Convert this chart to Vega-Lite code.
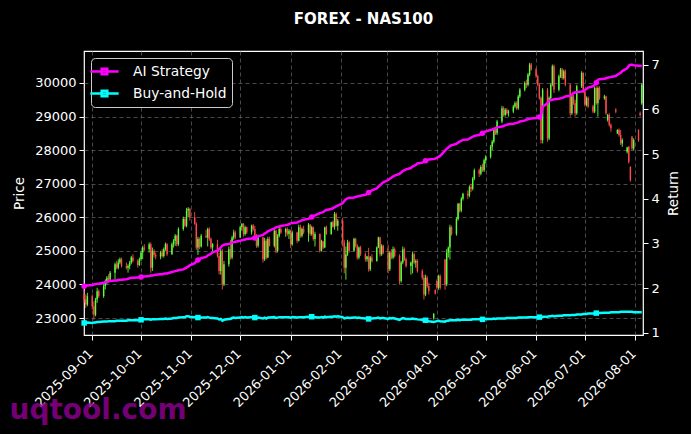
{
  "$schema": "https://vega.github.io/schema/vega-lite/v6.json",
  "width": 559,
  "height": 284,
  "autosize": "none",
  "padding": {"left": 84, "top": 51, "right": 48, "bottom": 99},
  "background": "#000000",
  "title": {"text": "FOREX - NAS100", "color": "#ffffff", "fontSize": 15, "fontWeight": "bold", "offset": 24, "anchor": "middle", "frame": "group"},
  "data": {
    "values": [
      {"d":"2025-08-27","o":23700,"h":23850,"l":23450,"c":23550,"ai":2.04,"bh":1.22},
      {"d":"2025-08-28","o":23550,"h":23700,"l":23300,"c":23400,"ai":2.05,"bh":1.22},
      {"d":"2025-08-29","o":23400,"h":23750,"l":23350,"c":23650,"ai":2.06,"bh":1.23},
      {"d":"2025-09-01","o":23650,"h":23700,"l":23250,"c":23350,"ai":2.07,"bh":1.22},
      {"d":"2025-09-02","o":23350,"h":23500,"l":22950,"c":23100,"ai":2.08,"bh":1.23},
      {"d":"2025-09-03","o":23100,"h":23600,"l":23050,"c":23550,"ai":2.09,"bh":1.23},
      {"d":"2025-09-04","o":23550,"h":23900,"l":23450,"c":23800,"ai":2.10,"bh":1.24},
      {"d":"2025-09-05","o":23800,"h":23850,"l":23600,"c":23650,"ai":2.10,"bh":1.24},
      {"d":"2025-09-08","o":23650,"h":24050,"l":23600,"c":23950,"ai":2.12,"bh":1.25},
      {"d":"2025-09-09","o":23950,"h":24150,"l":23850,"c":24100,"ai":2.13,"bh":1.25},
      {"d":"2025-09-10","o":24100,"h":24250,"l":24000,"c":24200,"ai":2.14,"bh":1.25},
      {"d":"2025-09-11","o":24200,"h":24300,"l":24050,"c":24150,"ai":2.15,"bh":1.26},
      {"d":"2025-09-12","o":24150,"h":24400,"l":24100,"c":24350,"ai":2.16,"bh":1.26},
      {"d":"2025-09-15","o":24350,"h":24650,"l":24150,"c":24600,"ai":2.17,"bh":1.26},
      {"d":"2025-09-16","o":24600,"h":24700,"l":24450,"c":24500,"ai":2.17,"bh":1.27},
      {"d":"2025-09-17","o":24500,"h":24750,"l":24450,"c":24650,"ai":2.18,"bh":1.27},
      {"d":"2025-09-18","o":24650,"h":24800,"l":24600,"c":24750,"ai":2.19,"bh":1.27},
      {"d":"2025-09-19","o":24750,"h":24800,"l":24500,"c":24550,"ai":2.19,"bh":1.27},
      {"d":"2025-09-22","o":24550,"h":24650,"l":24450,"c":24500,"ai":2.20,"bh":1.27},
      {"d":"2025-09-23","o":24500,"h":24600,"l":24350,"c":24550,"ai":2.21,"bh":1.28},
      {"d":"2025-09-24","o":24550,"h":24700,"l":24450,"c":24650,"ai":2.22,"bh":1.28},
      {"d":"2025-09-25","o":24650,"h":24850,"l":24600,"c":24800,"ai":2.23,"bh":1.28},
      {"d":"2025-09-26","o":24800,"h":24900,"l":24650,"c":24700,"ai":2.23,"bh":1.28},
      {"d":"2025-09-29","o":24700,"h":24750,"l":24500,"c":24580,"ai":2.24,"bh":1.28},
      {"d":"2025-09-30","o":24580,"h":24800,"l":24550,"c":24750,"ai":2.24,"bh":1.29},
      {"d":"2025-10-01","o":24750,"h":25000,"l":24700,"c":24950,"ai":2.25,"bh":1.29},
      {"d":"2025-10-02","o":24950,"h":25150,"l":24750,"c":25100,"ai":2.26,"bh":1.29},
      {"d":"2025-10-03","o":25100,"h":25200,"l":25000,"c":25050,"ai":2.26,"bh":1.30},
      {"d":"2025-10-06","o":25050,"h":25250,"l":24950,"c":25200,"ai":2.27,"bh":1.30},
      {"d":"2025-10-07","o":25200,"h":25250,"l":24350,"c":24500,"ai":2.28,"bh":1.29},
      {"d":"2025-10-08","o":24500,"h":25100,"l":24400,"c":25000,"ai":2.28,"bh":1.30},
      {"d":"2025-10-09","o":25000,"h":25050,"l":24800,"c":24880,"ai":2.29,"bh":1.30},
      {"d":"2025-10-10","o":24880,"h":24950,"l":24750,"c":24830,"ai":2.30,"bh":1.30},
      {"d":"2025-10-13","o":24830,"h":25000,"l":24750,"c":24950,"ai":2.31,"bh":1.31},
      {"d":"2025-10-14","o":24950,"h":25050,"l":24800,"c":24850,"ai":2.31,"bh":1.31},
      {"d":"2025-10-15","o":24850,"h":25100,"l":24800,"c":25050,"ai":2.32,"bh":1.31},
      {"d":"2025-10-16","o":25050,"h":25250,"l":25000,"c":25200,"ai":2.33,"bh":1.32},
      {"d":"2025-10-17","o":25200,"h":25230,"l":24850,"c":24900,"ai":2.33,"bh":1.31},
      {"d":"2025-10-20","o":24900,"h":25250,"l":24880,"c":25200,"ai":2.36,"bh":1.32},
      {"d":"2025-10-21","o":25200,"h":25350,"l":25100,"c":25300,"ai":2.37,"bh":1.33},
      {"d":"2025-10-22","o":25300,"h":25500,"l":25150,"c":25450,"ai":2.38,"bh":1.33},
      {"d":"2025-10-23","o":25450,"h":25480,"l":25130,"c":25200,"ai":2.39,"bh":1.33},
      {"d":"2025-10-24","o":25200,"h":25700,"l":25150,"c":25650,"ai":2.40,"bh":1.34},
      {"d":"2025-10-27","o":25650,"h":26020,"l":25600,"c":25950,"ai":2.42,"bh":1.35},
      {"d":"2025-10-28","o":25950,"h":26000,"l":25700,"c":25750,"ai":2.44,"bh":1.35},
      {"d":"2025-10-29","o":25750,"h":26280,"l":25700,"c":26200,"ai":2.46,"bh":1.37},
      {"d":"2025-10-30","o":26200,"h":26300,"l":26000,"c":26250,"ai":2.48,"bh":1.37},
      {"d":"2025-10-31","o":26250,"h":26280,"l":25900,"c":26000,"ai":2.51,"bh":1.36},
      {"d":"2025-11-03","o":26000,"h":26160,"l":25780,"c":25800,"ai":2.56,"bh":1.35},
      {"d":"2025-11-04","o":25800,"h":25850,"l":25030,"c":25100,"ai":2.60,"bh":1.33},
      {"d":"2025-11-05","o":25100,"h":25420,"l":24880,"c":25350,"ai":2.63,"bh":1.34},
      {"d":"2025-11-06","o":25350,"h":25400,"l":25050,"c":25130,"ai":2.65,"bh":1.33},
      {"d":"2025-11-07","o":25130,"h":25500,"l":25100,"c":25450,"ai":2.67,"bh":1.34},
      {"d":"2025-11-10","o":25450,"h":25630,"l":25390,"c":25400,"ai":2.70,"bh":1.34},
      {"d":"2025-11-11","o":25400,"h":25690,"l":25130,"c":25650,"ai":2.73,"bh":1.35},
      {"d":"2025-11-12","o":25650,"h":25700,"l":25300,"c":25350,"ai":2.75,"bh":1.34},
      {"d":"2025-11-13","o":25350,"h":25400,"l":25050,"c":25100,"ai":2.77,"bh":1.33},
      {"d":"2025-11-14","o":25100,"h":25230,"l":24980,"c":25200,"ai":2.80,"bh":1.33},
      {"d":"2025-11-17","o":25200,"h":25330,"l":24800,"c":24850,"ai":2.84,"bh":1.32},
      {"d":"2025-11-18","o":24850,"h":24950,"l":24300,"c":24400,"ai":2.87,"bh":1.30},
      {"d":"2025-11-19","o":24400,"h":25100,"l":24290,"c":25000,"ai":2.91,"bh":1.31},
      {"d":"2025-11-20","o":25000,"h":25050,"l":23850,"c":24000,"ai":2.95,"bh":1.27},
      {"d":"2025-11-21","o":24000,"h":24700,"l":23950,"c":24600,"ai":2.97,"bh":1.29},
      {"d":"2025-11-24","o":24600,"h":25130,"l":24530,"c":25050,"ai":2.99,"bh":1.31},
      {"d":"2025-11-25","o":25050,"h":25330,"l":24740,"c":24800,"ai":3.00,"bh":1.31},
      {"d":"2025-11-26","o":24800,"h":25450,"l":24750,"c":25400,"ai":3.02,"bh":1.33},
      {"d":"2025-11-27","o":25400,"h":25630,"l":25330,"c":25550,"ai":3.03,"bh":1.34},
      {"d":"2025-11-28","o":25550,"h":25600,"l":25350,"c":25400,"ai":3.04,"bh":1.33},
      {"d":"2025-12-01","o":25400,"h":25750,"l":25380,"c":25700,"ai":3.06,"bh":1.34},
      {"d":"2025-12-02","o":25700,"h":25830,"l":25600,"c":25800,"ai":3.07,"bh":1.35},
      {"d":"2025-12-03","o":25800,"h":25830,"l":25420,"c":25500,"ai":3.08,"bh":1.34},
      {"d":"2025-12-04","o":25500,"h":25750,"l":25450,"c":25700,"ai":3.09,"bh":1.35},
      {"d":"2025-12-05","o":25700,"h":25720,"l":25500,"c":25550,"ai":3.10,"bh":1.34},
      {"d":"2025-12-08","o":25550,"h":25780,"l":25480,"c":25750,"ai":3.11,"bh":1.35},
      {"d":"2025-12-09","o":25750,"h":25800,"l":25600,"c":25650,"ai":3.12,"bh":1.35},
      {"d":"2025-12-10","o":25650,"h":25750,"l":25400,"c":25450,"ai":3.12,"bh":1.34},
      {"d":"2025-12-11","o":25450,"h":25500,"l":25090,"c":25150,"ai":3.14,"bh":1.33},
      {"d":"2025-12-12","o":25150,"h":25480,"l":25100,"c":25400,"ai":3.16,"bh":1.34},
      {"d":"2025-12-15","o":25400,"h":25420,"l":24650,"c":24750,"ai":3.19,"bh":1.32},
      {"d":"2025-12-16","o":24750,"h":25390,"l":24700,"c":25300,"ai":3.22,"bh":1.34},
      {"d":"2025-12-17","o":25300,"h":25350,"l":24740,"c":24800,"ai":3.24,"bh":1.32},
      {"d":"2025-12-18","o":24800,"h":25420,"l":24780,"c":25350,"ai":3.27,"bh":1.34},
      {"d":"2025-12-19","o":25350,"h":25420,"l":25130,"c":25150,"ai":3.29,"bh":1.34},
      {"d":"2025-12-22","o":25150,"h":25650,"l":25100,"c":25600,"ai":3.34,"bh":1.35},
      {"d":"2025-12-23","o":25600,"h":25630,"l":24930,"c":25000,"ai":3.36,"bh":1.33},
      {"d":"2025-12-24","o":25000,"h":25500,"l":24950,"c":25450,"ai":3.37,"bh":1.34},
      {"d":"2025-12-25","o":25450,"h":25720,"l":25400,"c":25650,"ai":3.38,"bh":1.35},
      {"d":"2025-12-26","o":25650,"h":25700,"l":25500,"c":25550,"ai":3.39,"bh":1.35},
      {"d":"2025-12-29","o":25550,"h":25690,"l":25420,"c":25650,"ai":3.41,"bh":1.35},
      {"d":"2025-12-30","o":25650,"h":25700,"l":25450,"c":25500,"ai":3.42,"bh":1.35},
      {"d":"2025-12-31","o":25500,"h":25650,"l":25350,"c":25600,"ai":3.43,"bh":1.35},
      {"d":"2026-01-01","o":25600,"h":25630,"l":25090,"c":25200,"ai":3.45,"bh":1.34},
      {"d":"2026-01-02","o":25200,"h":25600,"l":25150,"c":25550,"ai":3.46,"bh":1.35},
      {"d":"2026-01-05","o":25550,"h":25570,"l":25230,"c":25300,"ai":3.47,"bh":1.34},
      {"d":"2026-01-06","o":25300,"h":25780,"l":25280,"c":25700,"ai":3.49,"bh":1.35},
      {"d":"2026-01-07","o":25700,"h":25780,"l":25390,"c":25450,"ai":3.50,"bh":1.35},
      {"d":"2026-01-08","o":25450,"h":25700,"l":25400,"c":25650,"ai":3.52,"bh":1.35},
      {"d":"2026-01-09","o":25650,"h":25750,"l":25500,"c":25550,"ai":3.53,"bh":1.35},
      {"d":"2026-01-12","o":25550,"h":25830,"l":25270,"c":25780,"ai":3.55,"bh":1.36},
      {"d":"2026-01-13","o":25780,"h":25800,"l":25450,"c":25500,"ai":3.57,"bh":1.35},
      {"d":"2026-01-14","o":25500,"h":25750,"l":25450,"c":25700,"ai":3.59,"bh":1.36},
      {"d":"2026-01-15","o":25700,"h":25720,"l":25300,"c":25350,"ai":3.61,"bh":1.35},
      {"d":"2026-01-16","o":25350,"h":25570,"l":25130,"c":25500,"ai":3.63,"bh":1.35},
      {"d":"2026-01-19","o":25500,"h":25520,"l":24950,"c":25000,"ai":3.68,"bh":1.34},
      {"d":"2026-01-20","o":25000,"h":25330,"l":24980,"c":25280,"ai":3.69,"bh":1.35},
      {"d":"2026-01-21","o":25280,"h":25300,"l":25050,"c":25100,"ai":3.70,"bh":1.34},
      {"d":"2026-01-22","o":25100,"h":25720,"l":25080,"c":25700,"ai":3.73,"bh":1.36},
      {"d":"2026-01-23","o":25700,"h":25750,"l":25480,"c":25500,"ai":3.75,"bh":1.35},
      {"d":"2026-01-26","o":25500,"h":25870,"l":25480,"c":25850,"ai":3.77,"bh":1.36},
      {"d":"2026-01-27","o":25850,"h":25900,"l":25690,"c":25720,"ai":3.79,"bh":1.36},
      {"d":"2026-01-28","o":25720,"h":26160,"l":25630,"c":26100,"ai":3.81,"bh":1.37},
      {"d":"2026-01-29","o":26100,"h":26140,"l":25720,"c":25750,"ai":3.83,"bh":1.36},
      {"d":"2026-01-30","o":25750,"h":25950,"l":25600,"c":25900,"ai":3.85,"bh":1.37},
      {"d":"2026-02-02","o":25900,"h":25990,"l":25130,"c":25250,"ai":3.90,"bh":1.35},
      {"d":"2026-02-03","o":25250,"h":25330,"l":24330,"c":24500,"ai":3.95,"bh":1.32},
      {"d":"2026-02-04","o":24500,"h":25130,"l":24140,"c":24900,"ai":3.99,"bh":1.33},
      {"d":"2026-02-05","o":24900,"h":25330,"l":24850,"c":25250,"ai":4.01,"bh":1.34},
      {"d":"2026-02-06","o":25250,"h":25300,"l":24950,"c":25000,"ai":4.02,"bh":1.33},
      {"d":"2026-02-09","o":25000,"h":25390,"l":24980,"c":25350,"ai":4.03,"bh":1.34},
      {"d":"2026-02-10","o":25350,"h":25390,"l":25100,"c":25150,"ai":4.04,"bh":1.34},
      {"d":"2026-02-11","o":25150,"h":25200,"l":24740,"c":24800,"ai":4.05,"bh":1.33},
      {"d":"2026-02-12","o":24800,"h":25130,"l":24750,"c":25100,"ai":4.06,"bh":1.34},
      {"d":"2026-02-13","o":25100,"h":25150,"l":24850,"c":24900,"ai":4.07,"bh":1.33},
      {"d":"2026-02-16","o":24900,"h":24950,"l":24680,"c":24750,"ai":4.09,"bh":1.32},
      {"d":"2026-02-17","o":24750,"h":24850,"l":24680,"c":24830,"ai":4.11,"bh":1.33},
      {"d":"2026-02-18","o":24830,"h":25090,"l":24380,"c":24450,"ai":4.14,"bh":1.31},
      {"d":"2026-02-19","o":24450,"h":24850,"l":24400,"c":24800,"ai":4.17,"bh":1.32},
      {"d":"2026-02-20","o":24800,"h":24900,"l":24650,"c":24700,"ai":4.19,"bh":1.32},
      {"d":"2026-02-23","o":24700,"h":25130,"l":24680,"c":25100,"ai":4.23,"bh":1.33},
      {"d":"2026-02-24","o":25100,"h":25420,"l":25080,"c":25400,"ai":4.27,"bh":1.34},
      {"d":"2026-02-25","o":25400,"h":25420,"l":24830,"c":24900,"ai":4.30,"bh":1.32},
      {"d":"2026-02-26","o":24900,"h":25200,"l":24850,"c":25150,"ai":4.34,"bh":1.33},
      {"d":"2026-02-27","o":25150,"h":25180,"l":24900,"c":24950,"ai":4.37,"bh":1.33},
      {"d":"2026-03-02","o":24950,"h":25180,"l":24330,"c":24450,"ai":4.42,"bh":1.31},
      {"d":"2026-03-03","o":24450,"h":25000,"l":24400,"c":24950,"ai":4.45,"bh":1.33},
      {"d":"2026-03-04","o":24950,"h":25050,"l":24750,"c":24800,"ai":4.47,"bh":1.32},
      {"d":"2026-03-05","o":24800,"h":25130,"l":24750,"c":25050,"ai":4.50,"bh":1.33},
      {"d":"2026-03-06","o":25050,"h":25100,"l":24800,"c":24850,"ai":4.52,"bh":1.32},
      {"d":"2026-03-09","o":24850,"h":24900,"l":24000,"c":24100,"ai":4.56,"bh":1.29},
      {"d":"2026-03-10","o":24100,"h":24700,"l":24050,"c":24650,"ai":4.59,"bh":1.31},
      {"d":"2026-03-11","o":24650,"h":25130,"l":24600,"c":25050,"ai":4.62,"bh":1.33},
      {"d":"2026-03-12","o":25050,"h":25100,"l":24700,"c":24750,"ai":4.64,"bh":1.32},
      {"d":"2026-03-13","o":24750,"h":24800,"l":24500,"c":24550,"ai":4.66,"bh":1.31},
      {"d":"2026-03-16","o":24550,"h":24680,"l":24290,"c":24650,"ai":4.69,"bh":1.31},
      {"d":"2026-03-17","o":24650,"h":24980,"l":24330,"c":24900,"ai":4.72,"bh":1.32},
      {"d":"2026-03-18","o":24900,"h":24950,"l":24600,"c":24650,"ai":4.74,"bh":1.31},
      {"d":"2026-03-19","o":24650,"h":24750,"l":24500,"c":24700,"ai":4.76,"bh":1.31},
      {"d":"2026-03-20","o":24700,"h":24750,"l":24350,"c":24400,"ai":4.79,"bh":1.30},
      {"d":"2026-03-23","o":24400,"h":24450,"l":24140,"c":24200,"ai":4.81,"bh":1.29},
      {"d":"2026-03-24","o":24200,"h":24290,"l":23550,"c":23700,"ai":4.83,"bh":1.26},
      {"d":"2026-03-25","o":23700,"h":24290,"l":23650,"c":24200,"ai":4.85,"bh":1.28},
      {"d":"2026-03-26","o":24200,"h":24250,"l":23900,"c":23950,"ai":4.86,"bh":1.27},
      {"d":"2026-03-27","o":23950,"h":24050,"l":23700,"c":23800,"ai":4.88,"bh":1.26},
      {"d":"2026-03-30","o":23000,"h":23150,"l":22950,"c":23120,"ai":4.89,"bh":1.24},
      {"d":"2026-03-31","o":23840,"h":23850,"l":23700,"c":23720,"ai":4.90,"bh":1.25},
      {"d":"2026-04-01","o":24100,"h":24150,"l":23850,"c":23900,"ai":4.92,"bh":1.26},
      {"d":"2026-04-02","o":23900,"h":24290,"l":23840,"c":24250,"ai":4.94,"bh":1.27},
      {"d":"2026-04-03","o":24250,"h":24300,"l":23850,"c":23900,"ai":4.96,"bh":1.26},
      {"d":"2026-04-06","o":24740,"h":24760,"l":23840,"c":24000,"ai":5.08,"bh":1.25},
      {"d":"2026-04-07","o":24000,"h":25050,"l":23950,"c":24950,"ai":5.12,"bh":1.27},
      {"d":"2026-04-08","o":24950,"h":25130,"l":24800,"c":25100,"ai":5.15,"bh":1.27},
      {"d":"2026-04-09","o":25100,"h":25780,"l":24740,"c":25700,"ai":5.18,"bh":1.28},
      {"d":"2026-04-10","o":25700,"h":25750,"l":25450,"c":25500,"ai":5.20,"bh":1.28},
      {"d":"2026-04-13","o":25500,"h":26000,"l":25450,"c":25950,"ai":5.23,"bh":1.28},
      {"d":"2026-04-14","o":25950,"h":26430,"l":25900,"c":26400,"ai":5.26,"bh":1.29},
      {"d":"2026-04-15","o":26400,"h":26430,"l":26140,"c":26200,"ai":5.28,"bh":1.28},
      {"d":"2026-04-16","o":26200,"h":26600,"l":26150,"c":26550,"ai":5.30,"bh":1.29},
      {"d":"2026-04-17","o":26550,"h":26730,"l":26500,"c":26700,"ai":5.32,"bh":1.29},
      {"d":"2026-04-20","o":26700,"h":26800,"l":26550,"c":26650,"ai":5.33,"bh":1.29},
      {"d":"2026-04-21","o":26650,"h":26950,"l":26600,"c":26900,"ai":5.35,"bh":1.29},
      {"d":"2026-04-22","o":26900,"h":27000,"l":26750,"c":26850,"ai":5.37,"bh":1.29},
      {"d":"2026-04-23","o":26850,"h":27200,"l":26800,"c":27150,"ai":5.39,"bh":1.30},
      {"d":"2026-04-24","o":27150,"h":27450,"l":27100,"c":27400,"ai":5.41,"bh":1.30},
      {"d":"2026-04-27","o":27400,"h":27450,"l":27200,"c":27300,"ai":5.43,"bh":1.30},
      {"d":"2026-04-28","o":27300,"h":27550,"l":27250,"c":27500,"ai":5.45,"bh":1.30},
      {"d":"2026-04-29","o":27500,"h":27600,"l":27350,"c":27400,"ai":5.47,"bh":1.30},
      {"d":"2026-04-30","o":27400,"h":27750,"l":27350,"c":27700,"ai":5.49,"bh":1.30},
      {"d":"2026-05-01","o":27700,"h":27850,"l":27600,"c":27800,"ai":5.51,"bh":1.31},
      {"d":"2026-05-04","o":27800,"h":28150,"l":27750,"c":28100,"ai":5.54,"bh":1.31},
      {"d":"2026-05-05","o":28100,"h":28300,"l":28000,"c":28250,"ai":5.55,"bh":1.31},
      {"d":"2026-05-06","o":28250,"h":28650,"l":28200,"c":28600,"ai":5.57,"bh":1.32},
      {"d":"2026-05-07","o":28600,"h":28700,"l":28450,"c":28500,"ai":5.58,"bh":1.31},
      {"d":"2026-05-08","o":28500,"h":28900,"l":28450,"c":28850,"ai":5.60,"bh":1.32},
      {"d":"2026-05-11","o":28850,"h":29320,"l":28800,"c":29250,"ai":5.62,"bh":1.32},
      {"d":"2026-05-12","o":29250,"h":29300,"l":29000,"c":29050,"ai":5.63,"bh":1.32},
      {"d":"2026-05-13","o":29050,"h":29250,"l":29000,"c":29200,"ai":5.65,"bh":1.32},
      {"d":"2026-05-14","o":29200,"h":29250,"l":29050,"c":29100,"ai":5.66,"bh":1.33},
      {"d":"2026-05-15","o":29100,"h":29200,"l":29000,"c":29150,"ai":5.67,"bh":1.33},
      {"d":"2026-05-18","o":29150,"h":29350,"l":29100,"c":29300,"ai":5.68,"bh":1.33},
      {"d":"2026-05-19","o":29300,"h":29450,"l":29250,"c":29400,"ai":5.69,"bh":1.33},
      {"d":"2026-05-20","o":29400,"h":29450,"l":29200,"c":29250,"ai":5.70,"bh":1.33},
      {"d":"2026-05-21","o":29250,"h":29650,"l":29200,"c":29600,"ai":5.71,"bh":1.34},
      {"d":"2026-05-22","o":29600,"h":29850,"l":29550,"c":29800,"ai":5.73,"bh":1.34},
      {"d":"2026-05-25","o":29800,"h":30050,"l":29750,"c":30000,"ai":5.75,"bh":1.34},
      {"d":"2026-05-26","o":30000,"h":30100,"l":29850,"c":29950,"ai":5.77,"bh":1.34},
      {"d":"2026-05-27","o":29950,"h":30300,"l":29900,"c":30250,"ai":5.78,"bh":1.35},
      {"d":"2026-05-28","o":30250,"h":30600,"l":30200,"c":30550,"ai":5.79,"bh":1.35},
      {"d":"2026-05-29","o":30550,"h":30600,"l":30370,"c":30400,"ai":5.80,"bh":1.35},
      {"d":"2026-06-01","o":30400,"h":30450,"l":30150,"c":30200,"ai":5.81,"bh":1.35},
      {"d":"2026-06-02","o":30200,"h":30250,"l":29900,"c":29950,"ai":5.82,"bh":1.36},
      {"d":"2026-06-03","o":29950,"h":30000,"l":29500,"c":29550,"ai":5.83,"bh":1.35},
      {"d":"2026-06-04","o":29550,"h":29600,"l":28200,"c":28300,"ai":5.85,"bh":1.34},
      {"d":"2026-06-05","o":28300,"h":29850,"l":28200,"c":29800,"ai":6.06,"bh":1.36},
      {"d":"2026-06-08","o":29800,"h":29850,"l":28250,"c":28350,"ai":6.14,"bh":1.36},
      {"d":"2026-06-09","o":28350,"h":29600,"l":28300,"c":29550,"ai":6.20,"bh":1.37},
      {"d":"2026-06-10","o":29550,"h":30000,"l":29500,"c":29950,"ai":6.21,"bh":1.37},
      {"d":"2026-06-11","o":29950,"h":30550,"l":29900,"c":30500,"ai":6.22,"bh":1.38},
      {"d":"2026-06-12","o":30500,"h":30550,"l":29700,"c":29800,"ai":6.23,"bh":1.37},
      {"d":"2026-06-15","o":29800,"h":30250,"l":29750,"c":30200,"ai":6.24,"bh":1.38},
      {"d":"2026-06-16","o":30200,"h":30450,"l":30150,"c":30400,"ai":6.25,"bh":1.38},
      {"d":"2026-06-17","o":30400,"h":30450,"l":30100,"c":30150,"ai":6.26,"bh":1.38},
      {"d":"2026-06-18","o":30150,"h":30400,"l":30100,"c":30350,"ai":6.27,"bh":1.39},
      {"d":"2026-06-19","o":30350,"h":30400,"l":29900,"c":29950,"ai":6.29,"bh":1.39},
      {"d":"2026-06-22","o":29950,"h":29980,"l":29000,"c":29100,"ai":6.31,"bh":1.39},
      {"d":"2026-06-23","o":29100,"h":29650,"l":29050,"c":29600,"ai":6.33,"bh":1.40},
      {"d":"2026-06-24","o":29600,"h":29650,"l":29350,"c":29400,"ai":6.37,"bh":1.40},
      {"d":"2026-06-25","o":29400,"h":29500,"l":29000,"c":29100,"ai":6.38,"bh":1.40},
      {"d":"2026-06-26","o":29100,"h":29950,"l":29050,"c":29900,"ai":6.39,"bh":1.41},
      {"d":"2026-06-29","o":29900,"h":30350,"l":29850,"c":30300,"ai":6.40,"bh":1.41},
      {"d":"2026-06-30","o":30300,"h":30320,"l":29700,"c":29750,"ai":6.42,"bh":1.42},
      {"d":"2026-07-01","o":29750,"h":29800,"l":29300,"c":29350,"ai":6.44,"bh":1.42},
      {"d":"2026-07-02","o":29350,"h":29600,"l":29300,"c":29550,"ai":6.46,"bh":1.42},
      {"d":"2026-07-03","o":29550,"h":29600,"l":29250,"c":29300,"ai":6.49,"bh":1.43},
      {"d":"2026-07-06","o":29300,"h":29350,"l":29100,"c":29150,"ai":6.52,"bh":1.43},
      {"d":"2026-07-07","o":29150,"h":29900,"l":29100,"c":29850,"ai":6.55,"bh":1.43},
      {"d":"2026-07-08","o":29850,"h":29900,"l":29350,"c":29400,"ai":6.60,"bh":1.44},
      {"d":"2026-07-09","o":29400,"h":29900,"l":29000,"c":29850,"ai":6.66,"bh":1.44},
      {"d":"2026-07-10","o":29850,"h":29900,"l":29500,"c":29550,"ai":6.68,"bh":1.44},
      {"d":"2026-07-13","o":29550,"h":29650,"l":29500,"c":29600,"ai":6.69,"bh":1.45},
      {"d":"2026-07-14","o":29600,"h":29620,"l":29050,"c":29100,"ai":6.70,"bh":1.45},
      {"d":"2026-07-15","o":28900,"h":29080,"l":28850,"c":29050,"ai":6.71,"bh":1.45},
      {"d":"2026-07-16","o":29050,"h":29100,"l":28700,"c":28750,"ai":6.72,"bh":1.45},
      {"d":"2026-07-17","o":28750,"h":28800,"l":28550,"c":28650,"ai":6.73,"bh":1.46},
      {"d":"2026-07-20","o":29200,"h":29250,"l":29100,"c":29150,"ai":6.75,"bh":1.46},
      {"d":"2026-07-21","o":28500,"h":28620,"l":28480,"c":28600,"ai":6.78,"bh":1.46},
      {"d":"2026-07-22","o":28600,"h":28650,"l":28400,"c":28450,"ai":6.80,"bh":1.46},
      {"d":"2026-07-23","o":28450,"h":28600,"l":28150,"c":28200,"ai":6.82,"bh":1.47},
      {"d":"2026-07-24","o":28200,"h":28350,"l":28100,"c":28300,"ai":6.86,"bh":1.47},
      {"d":"2026-07-27","o":27950,"h":28100,"l":27900,"c":28080,"ai":6.92,"bh":1.47},
      {"d":"2026-07-28","o":28100,"h":28120,"l":27600,"c":27650,"ai":6.98,"bh":1.47},
      {"d":"2026-07-29","o":27500,"h":27520,"l":27060,"c":27100,"ai":7.00,"bh":1.47},
      {"d":"2026-07-30","o":28400,"h":28420,"l":28000,"c":28050,"ai":7.00,"bh":1.47},
      {"d":"2026-07-31","o":28050,"h":28350,"l":28000,"c":28300,"ai":6.99,"bh":1.46},
      {"d":"2026-08-03","o":28600,"h":28620,"l":28250,"c":28300,"ai":6.98,"bh":1.46},
      {"d":"2026-08-04","o":29100,"h":29150,"l":29000,"c":29050,"ai":6.98,"bh":1.46},
      {"d":"2026-08-05","o":29400,"h":30000,"l":29350,"c":29950,"ai":6.97,"bh":1.46}
    ]
  },
  "encoding": {
    "x": {
      "field": "d",
      "type": "temporal",
      "scale": {
        "type": "utc",
        "domain": [
          {"year": 2025, "month": 8, "date": 26, "hours": 22, "utc": true},
          {"year": 2026, "month": 8, "date": 5, "hours": 18, "utc": true}
        ]
      },
      "axis": {
        "format": "%Y-%m-%d",
        "values": [
          {"year": 2025, "month": 9, "date": 1, "utc": true},
          {"year": 2025, "month": 10, "date": 1, "utc": true},
          {"year": 2025, "month": 11, "date": 1, "utc": true},
          {"year": 2025, "month": 12, "date": 1, "utc": true},
          {"year": 2026, "month": 1, "date": 1, "utc": true},
          {"year": 2026, "month": 2, "date": 1, "utc": true},
          {"year": 2026, "month": 3, "date": 1, "utc": true},
          {"year": 2026, "month": 4, "date": 1, "utc": true},
          {"year": 2026, "month": 5, "date": 1, "utc": true},
          {"year": 2026, "month": 6, "date": 1, "utc": true},
          {"year": 2026, "month": 7, "date": 1, "utc": true},
          {"year": 2026, "month": 8, "date": 1, "utc": true}
        ],
        "labelOverlap": false,
        "labelAngle": -45,
        "labelAlign": "right",
        "labelBaseline": "top",
        "labelOffset": -6,
        "labelPadding": 7,
        "grid": true,
        "title": "uqtool.com",
        "titleColor": "#8b008b",
        "titleOpacity": 0.85,
        "titleFontSize": 28,
        "titleFontWeight": "bold",
        "titleAnchor": "start",
        "titleAlign": "left",
        "titleBaseline": "alphabetic",
        "titleX": -75,
        "titleY": 83
      }
    }
  },
  "layer": [
    {
      "layer": [
        {
          "mark": {"type": "rule", "strokeWidth": 0.9},
          "encoding": {
            "y": {
              "field": "l",
              "type": "quantitative",
              "scale": {"domain": [22494, 30953], "nice": false, "zero": false},
              "axis": {"orient": "left", "title": "Price", "values": [23000, 24000, 25000, 26000, 27000, 28000, 29000, 30000], "format": "d", "grid": true, "titlePadding": 8}
            },
            "y2": {"field": "h"},
            "color": {"condition": {"test": "datum.c >= datum.o", "value": "#5cff3a"}, "value": "#ff4a4a"}
          }
        },
        {
          "mark": {"type": "rule", "strokeWidth": 1.4},
          "encoding": {
            "y": {"field": "o", "type": "quantitative", "title": "Price"},
            "y2": {"field": "c"},
            "color": {"condition": {"test": "datum.c >= datum.o", "value": "#5cff3a"}, "value": "#ff4a4a"}
          }
        }
      ]
    },
    {
      "layer": [
        {
          "mark": {"type": "line", "strokeWidth": 2.5},
          "encoding": {
            "y": {
              "field": "ai",
              "type": "quantitative",
              "scale": {"domain": [0.95, 7.31], "nice": false, "zero": false},
              "axis": {"orient": "right", "title": "Return", "titleAngle": 270, "titleBaseline": "top", "values": [1, 2, 3, 4, 5, 6, 7], "grid": false, "titlePadding": 7}
            },
            "color": {
              "datum": "AI Strategy",
              "scale": {"domain": ["AI Strategy", "Buy-and-Hold"], "range": ["#ff00ff", "#00ffff"]},
              "legend": {"title": null}
            }
          }
        },
        {
          "mark": {"type": "line", "strokeWidth": 2.5},
          "encoding": {
            "y": {"field": "bh", "type": "quantitative", "title": "Return"},
            "color": {"datum": "Buy-and-Hold"}
          }
        },
        {
          "transform": [
            {"window": [{"op": "row_number", "as": "rn"}]},
            {"filter": "(datum.rn - 1) % 25 == 0"}
          ],
          "mark": {"type": "point", "shape": "circle", "filled": true, "size": 30, "opacity": 1},
          "encoding": {
            "y": {"field": "ai", "type": "quantitative", "title": "Return"},
            "color": {"value": "#ff00ff"}
          }
        },
        {
          "transform": [
            {"window": [{"op": "row_number", "as": "rn"}]},
            {"filter": "(datum.rn - 1) % 25 == 0"}
          ],
          "mark": {"type": "point", "shape": "square", "filled": true, "size": 30, "opacity": 1},
          "encoding": {
            "y": {"field": "bh", "type": "quantitative", "title": "Return"},
            "color": {"value": "#00ffff"}
          }
        }
      ]
    }
  ],
  "resolve": {"scale": {"y": "independent"}},
  "config": {
    "font": "DejaVu Sans",
    "view": {"stroke": "#ffffff", "strokeWidth": 1.2},
    "axis": {
      "domain": false,
      "labelColor": "#ffffff",
      "titleColor": "#ffffff",
      "tickColor": "#ffffff",
      "tickSize": 5,
      "labelFontSize": 13,
      "titleFontSize": 13.5,
      "titleFontWeight": "normal",
      "labelPadding": 3,
      "gridColor": "#5a5a5a",
      "gridDash": [4, 3],
      "gridWidth": 0.8
    },
    "legend": {
      "orient": "top-left",
      "offset": 7,
      "fillColor": "#000000",
      "strokeColor": "#cccccc",
      "cornerRadius": 4,
      "padding": 5,
      "labelColor": "#ffffff",
      "labelFontSize": 13.8,
      "labelOffset": 20,
      "symbolType": "M-2,0H2M-0.4,-0.4H0.4V0.4H-0.4Z",
      "symbolStrokeWidth": 2.5,
      "symbolSize": 200,
      "rowPadding": 5
    }
  }
}
